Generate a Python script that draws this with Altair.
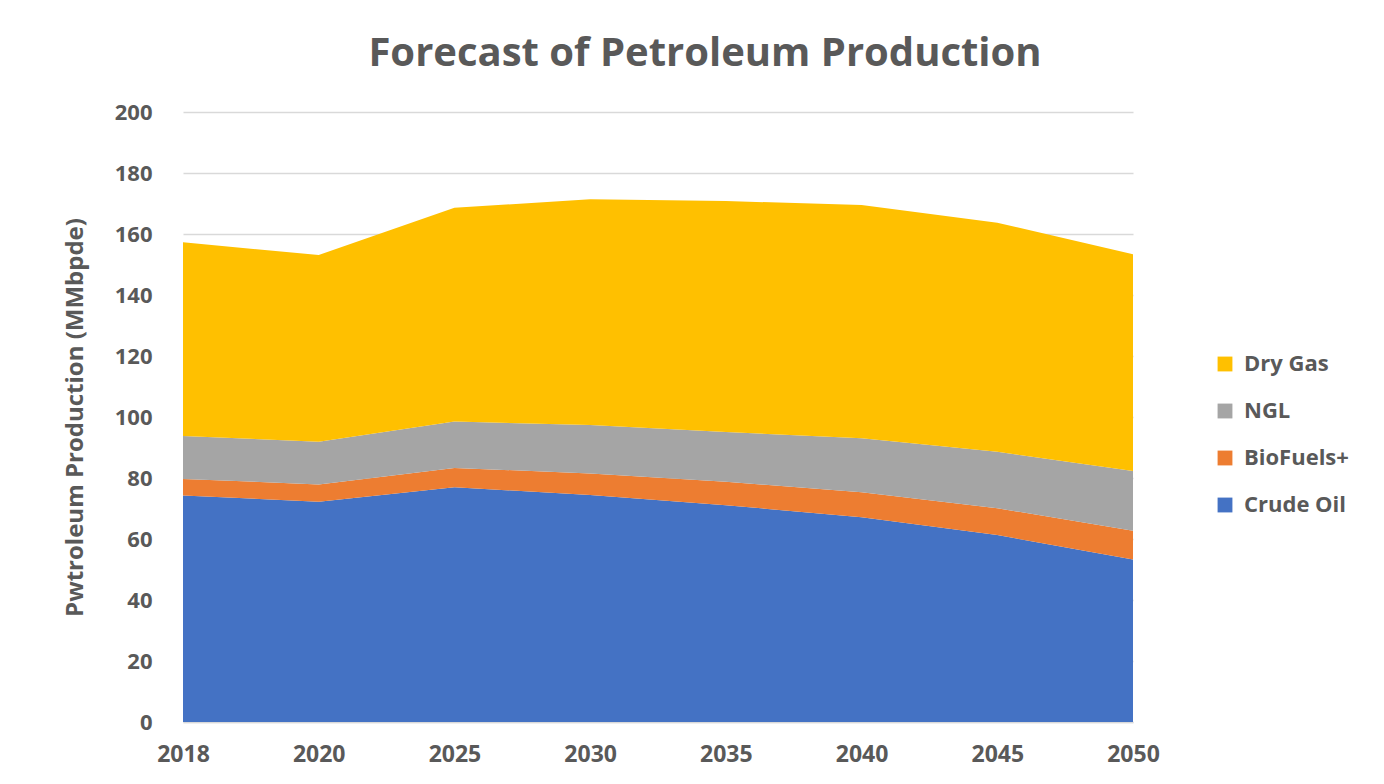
import altair as alt
import pandas as pd

years = ["2018", "2020", "2025", "2030", "2035", "2040", "2045", "2050"]
crude_oil = [74.3, 72.2, 77.0, 74.4, 71.1, 67.1, 61.3, 53.3]
biofuels = [5.4, 5.7, 6.3, 7.1, 7.7, 8.2, 8.8, 9.4]
ngl = [14.1, 14.0, 15.2, 15.9, 16.3, 17.7, 18.5, 19.6]
dry_gas = [63.5, 61.2, 70.1, 74.0, 75.7, 76.5, 75.1, 71.1]

series_names = ["Crude Oil", "BioFuels+", "NGL", "Dry Gas"]
series_values = [crude_oil, biofuels, ngl, dry_gas]
legend_order = ["Dry Gas", "NGL", "BioFuels+", "Crude Oil"]
colors = ["#FFC000", "#A5A5A5", "#ED7D31", "#4472C4"]

rows = []
for k, (name, vals) in enumerate(zip(series_names, series_values)):
    for y, v in zip(years, vals):
        rows.append({"year": y, "series": name, "value": v, "ord": k})
df = pd.DataFrame(rows)

FONT = "Open Sans"
TXT = "#595959"

chart = alt.Chart(df).mark_area(opacity=1).encode(
    x=alt.X("year:O", sort=years, scale=alt.Scale(padding=0),
            axis=alt.Axis(title=None, labelAngle=0, labelFontSize=23, labelFont=FONT,
                          labelFontWeight="bold", labelColor=TXT, labelPadding=21,
                          ticks=False, domainColor="#D9D9D9", domainWidth=1.5, grid=False)),
    y=alt.Y("value:Q", stack="zero", scale=alt.Scale(domain=[0, 200]),
            axis=alt.Axis(title="Pwtroleum Production (MMbpde)", values=list(range(0, 201, 20)),
                          labelFontSize=22, labelFont=FONT, labelFontWeight="bold",
                          labelColor=TXT, labelPadding=31, ticks=False, domain=False,
                          gridColor="#D9D9D9", gridWidth=1.5,
                          titleFontSize=24, titleFont=FONT, titleFontWeight="bold",
                          titleColor=TXT, titlePadding=27)),
    color=alt.Color("series:N", scale=alt.Scale(domain=legend_order, range=colors),
                    legend=alt.Legend(title=None, orient="none", legendX=1031, legendY=241,
                                      symbolType="square", symbolSize=220, symbolStrokeWidth=0,
                                      labelFontSize=22, labelFont=FONT, labelFontWeight="bold",
                                      labelColor=TXT, rowPadding=25, labelOffset=8)),
    order=alt.Order("ord:Q"),
).properties(
    width=950, height=610,
    title=alt.Title("Forecast of Petroleum Production", fontSize=40, font=FONT,
                    fontWeight="bold", color=TXT, anchor="middle", dx=47, offset=27),
    autosize=alt.AutoSizeParams(type="none"),
    padding={"left": 175, "top": 104, "right": 243, "bottom": 54},
).configure_view(stroke=None)

chart.save("out.html", embed_options={"renderer": "svg", "actions": False})
